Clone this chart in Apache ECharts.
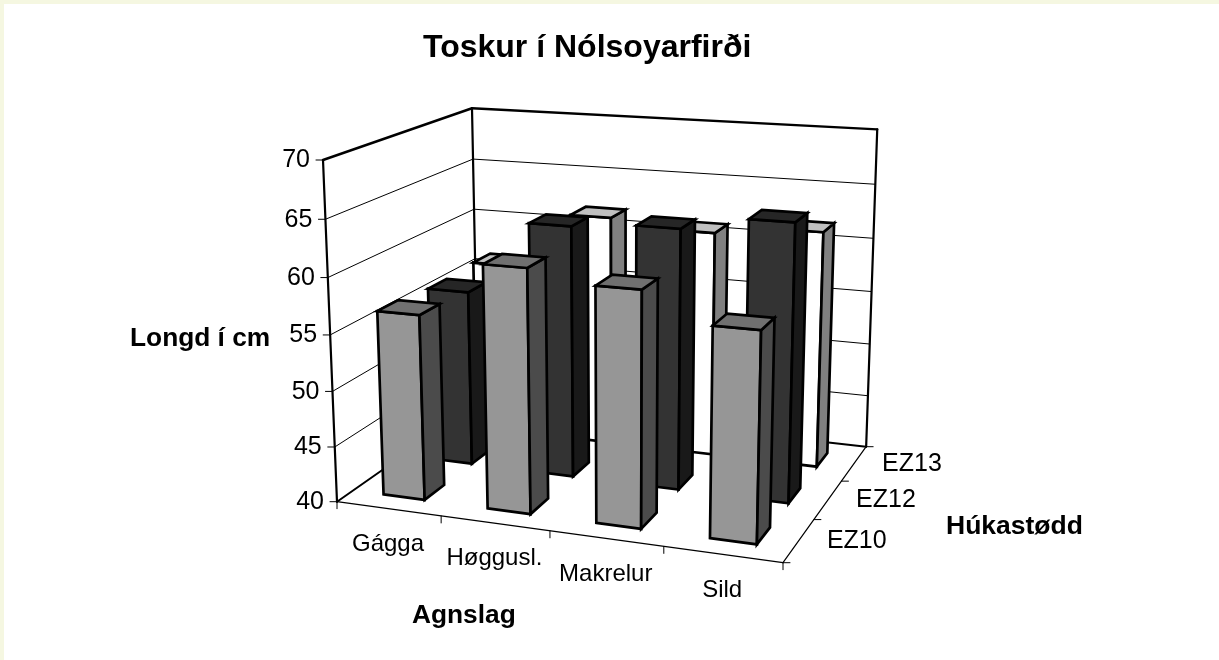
<!DOCTYPE html>
<html><head><meta charset="utf-8">
<script src="https://cdn.jsdelivr.net/npm/echarts@6/dist/echarts.min.js"></script>
<style>html,body{margin:0;padding:0;background:#fff}#c{width:1219px;height:660px}</style>
</head><body><div id="c"></div>
<script>
const categories = ['Gágga','Høggusl.','Makrelur','Sild'];
const depthNames = ['EZ10','EZ12','EZ13'];
const valueTicks = [40,45,50,55,60,65,70];
const ez10 = [56.6,61.5,60.5,58.05];
const ez12 = [56.2,62.95,63.45,64.7];
const ez13 = [56.4,61.7,61,61.8];
const vMin = 40, vMax = 70, barFrac = 0.4;

// Projective camera of the 3D box: image of the corners and vanishing points
const O=[337,501.7], U=[783,562.7], V=[478,403], W=[323,160];
const wu=0.9139, wv=1.1675, ww=0.9531;
function project(u,v,w){
  const d=1+(wu-1)*u+(wv-1)*v+(ww-1)*w;
  return [0,1].map(i=>(O[i]+(wu*U[i]-O[i])*u+(wv*V[i]-O[i])*v+(ww*W[i]-O[i])*w)/d);
}
const h=val=>(val-vMin)/(vMax-vMin);
const shift=(p,dx,dy)=>[p[0]+dx,p[1]+dy];

function poly(api,pts,fill,lw){
  return {type:'polygon',shape:{points:pts.map(p=>api.coord(p))},
    style:{fill:fill,stroke:'#000',lineWidth:lw,lineJoin:'miter'}};
}
function line(api,a,b,lw){
  const p=api.coord(a),q=api.coord(b);
  return {type:'line',shape:{x1:p[0],y1:p[1],x2:q[0],y2:q[1]},style:{stroke:'#000',lineWidth:lw,lineCap:'round'}};
}
function label(api,p,text,align,size){
  const c=api.coord(p);
  return {type:'text',x:c[0],y:c[1],style:{text:text,fill:'#000',font:size+'px "Liberation Sans"',align:align,verticalAlign:'middle'}};
}
function barSeries(name,idx,values,colors){
  return {type:'custom',name:name,coordinateSystem:'cartesian2d',z:10+(2-idx),silent:true,
    data:values.map((val,i)=>[i,val]),
    encode:{x:0,y:1},clip:false,
    renderItem(params,api){
      const i=api.value(0),val=api.value(1),t=h(val);
      const n=categories.length,m=depthNames.length;
      const u0=(i+(1-barFrac)/2)/n,u1=(i+(1+barFrac)/2)/n;
      const v0=(idx+(1-barFrac)/2)/m,v1=(idx+(1+barFrac)/2)/m;
      return {type:'group',children:[
        poly(api,[project(u0,v0,0),project(u1,v0,0),project(u1,v0,t),project(u0,v0,t)],colors[0],2.7),
        poly(api,[project(u1,v0,0),project(u1,v1,0),project(u1,v1,t),project(u1,v0,t)],colors[1],2.7),
        poly(api,[project(u0,v0,t),project(u1,v0,t),project(u1,v1,t),project(u0,v1,t)],colors[2],2.7)
      ]};
    }};
}
const frameSeries={type:'custom',name:'frame',coordinateSystem:'cartesian2d',z:1,silent:true,clip:false,
  data:[[0,0]],encode:{x:0,y:1},
  renderItem(params,api){
    const ch=[];
    valueTicks.forEach(t=>{
      const w=h(t);
      if(t!==vMax&&t!==vMin){
        ch.push(line(api,project(0,0,w),project(0,1,w),1));
        ch.push(line(api,project(0,1,w),project(1,1,w),1));
      }
      const a=project(0,0,w);
      ch.push(line(api,a,shift(a,-7,0),1));
      ch.push(label(api,shift(a,-13,0.5),String(t),'right',25));
    });
    ch.push(line(api,project(0,0,1),project(0,1,1),2.4));
    ch.push(line(api,project(0,1,1),project(1,1,1),2.4));
    ch.push(line(api,project(0,0,0),project(0,0,1),2.2));
    ch.push(line(api,project(0,1,0),project(0,1,1),2.2));
    ch.push(line(api,project(1,1,0),project(1,1,1),2.2));
    ch.push(line(api,project(0,0,0),project(0,1,0),2));
    ch.push(line(api,project(0,1,0),project(1,1,0),2));
    ch.push(line(api,project(0,0,0),project(1,0,0),1.2));
    ch.push(line(api,project(1,0,0),project(1,1,0),1.2));
    for(let i=0;i<=categories.length;i++){
      const a=project(i/categories.length,0,0);
      ch.push(line(api,a,shift(a,0,7),1));
    }
    categories.forEach((c,i)=>{
      const p=project((i+0.5)/categories.length,0,0);
      ch.push(label(api,shift(p,-0.5,35.5),c,'center',24));
    });
    for(let j=0;j<=depthNames.length;j++){
      const a=project(1,j/depthNames.length,0);
      ch.push(line(api,a,shift(a,7,0),1));
    }
    depthNames.forEach((c,j)=>{
      const p=project(1,(j+0.5)/depthNames.length,0);
      ch.push(label(api,shift(p,28,0.5),c,'left',25));
    });
    return {type:'group',children:ch};
  }};

const chart=echarts.init(document.getElementById('c'),null,{renderer:'canvas'});
const bold=(text,left,top,size)=>({type:'text',left:left,top:top,silent:true,style:{text:text,fill:'#000',font:'bold '+size+'px "Liberation Sans"'}});
chart.setOption({
  animation:false,
  backgroundColor:'#fff',
  grid:{left:0,top:0,right:0,bottom:0,containLabel:false},
  xAxis:{type:'value',min:0,max:1219,show:false},
  yAxis:{type:'value',min:0,max:660,inverse:true,show:false},
  series:[frameSeries,
    barSeries('EZ13',2,ez13,['#FFFFFF','#808080','#C0C0C0']),
    barSeries('EZ12',1,ez12,['#333333','#191919','#262626']),
    barSeries('EZ10',0,ez10,['#969696','#4B4B4B','#707070'])],
  graphic:[
    {type:'rect',left:0,top:0,shape:{width:1219,height:4},silent:true,style:{fill:'#F5F7E1'}},
    {type:'rect',left:0,top:0,shape:{width:4,height:660},silent:true,style:{fill:'#F5F7E1'}},
    bold('Toskur í Nólsoyarfirði',423,32,32),
    bold('Longd í cm',130,326,26.3),
    bold('Agnslag',412,603,26.3),
    bold('Húkastødd',946,513,26.5)
  ]
});
</script></body></html>
